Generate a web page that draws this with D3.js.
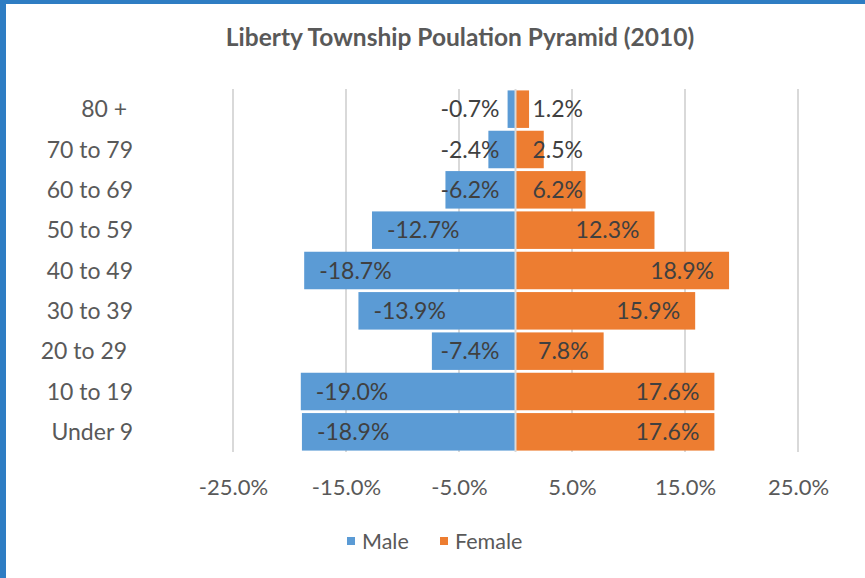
<!DOCTYPE html>
<html>
<head>
<meta charset="utf-8">
<script src="https://cdn.jsdelivr.net/npm/d3@7"></script>
<style>
  html, body { margin: 0; padding: 0; background: #fff; }
  svg { display: block; font-family: Lato, "Open Sans", sans-serif; }
</style>
</head>
<body>
<svg id="chart"></svg>
<script>
// Age groups, top to bottom (trailing spaces as in the original sheet)
const categories = ['80 + ', '70 to 79', '60 to 69', '50 to 59', '40 to 49', '30 to 39', '20 to 29 ', '10 to 19', 'Under 9'];
const maleValues = [-0.7, -2.4, -6.2, -12.7, -18.7, -13.9, -7.4, -19.0, -18.9];
const femaleValues = [1.2, 2.5, 6.2, 12.3, 18.9, 15.9, 7.8, 17.6, 17.6];
const xTicks = [-25, -15, -5, 5, 15, 25];
const seriesNames = ['Male', 'Female'];

const config = {
  width: 865,
  height: 578,
  margin: { top: 89, right: 67, bottom: 126, left: 233 }
};
const colors = { Male: '#5b9bd5', Female: '#ed7d31' };

const svg = d3.select('#chart')
  .attr('width', config.width)
  .attr('height', config.height);

// Blue frame edges
svg.append('rect').attr('x', 0).attr('y', 0).attr('width', config.width).attr('height', 4).attr('fill', '#2e7dc3');
svg.append('rect').attr('x', 0).attr('y', 0).attr('width', 6).attr('height', config.height).attr('fill', '#2e7dc3');

const innerW = config.width - config.margin.left - config.margin.right;
const innerH = config.height - config.margin.top - config.margin.bottom;

const chart = svg.append('g')
  .attr('transform', `translate(${config.margin.left},${config.margin.top})`);

// Scales
const xScale = d3.scaleLinear().domain([-25, 25]).range([0, innerW]);
const yScale = d3.scaleBand().domain(categories).range([0, innerH]).paddingInner(0.07).paddingOuter(0.035);

// Gridlines
chart.selectAll('.grid')
  .data(xTicks)
  .join('line')
  .attr('class', 'grid')
  .attr('x1', d => xScale(d)).attr('x2', d => xScale(d))
  .attr('y1', 0).attr('y2', innerH)
  .attr('stroke', '#d9d9d9')
  .attr('stroke-width', 2);

// Table for bars
const rows = categories.map((c, i) => ({ cat: c, male: maleValues[i], female: femaleValues[i] }));

chart.selectAll('.bar-male')
  .data(rows)
  .join('rect')
  .attr('class', 'bar-male')
  .attr('x', d => xScale(d.male))
  .attr('width', d => xScale(0) - xScale(d.male))
  .attr('y', d => yScale(d.cat))
  .attr('height', yScale.bandwidth())
  .attr('fill', colors.Male);

chart.selectAll('.bar-female')
  .data(rows)
  .join('rect')
  .attr('class', 'bar-female')
  .attr('x', xScale(0))
  .attr('width', d => xScale(d.female) - xScale(0))
  .attr('y', d => yScale(d.cat))
  .attr('height', yScale.bandwidth())
  .attr('fill', colors.Female);

// Vertical zero axis
chart.append('line')
  .attr('x1', xScale(0)).attr('x2', xScale(0))
  .attr('y1', 0).attr('y2', innerH)
  .attr('stroke', '#d9d9d9')
  .attr('stroke-width', 2);

// Data labels (plain hyphen for negatives, like Excel)
const fmt = d => d.toFixed(1) + '%';
const x0 = xScale(0);

chart.selectAll('.lbl-male')
  .data(rows)
  .join('text')
  .attr('class', 'lbl-male')
  .attr('y', d => yScale(d.cat) + yScale.bandwidth() / 2)
  .attr('dy', '0.36em')
  .attr('font-size', 23)
  .attr('fill', '#404040')
  .attr('text-anchor', 'start')
  .text(d => fmt(d.male))
  .attr('x', function (d) {
    const w = this.getComputedTextLength();
    return Math.min(xScale(d.male) + 15, x0 - 16 - w);
  });

chart.selectAll('.lbl-female')
  .data(rows)
  .join('text')
  .attr('class', 'lbl-female')
  .attr('y', d => yScale(d.cat) + yScale.bandwidth() / 2)
  .attr('dy', '0.36em')
  .attr('font-size', 23)
  .attr('fill', '#404040')
  .attr('text-anchor', 'end')
  .text(d => fmt(d.female))
  .attr('x', function (d) {
    const w = this.getComputedTextLength();
    return Math.max(xScale(d.female) - 15, x0 + 17 + w);
  });

// Category labels
chart.selectAll('.cat')
  .data(categories)
  .join('text')
  .attr('class', 'cat')
  .attr('x', 133 - config.margin.left)
  .attr('y', d => yScale(d) + yScale.bandwidth() / 2)
  .attr('dy', '0.36em')
  .attr('text-anchor', 'end')
  .attr('font-size', 23)
  .attr('fill', '#595959')
  .style('white-space', 'pre')
  .text(d => d);

// X axis labels
const xAxis = d3.axisBottom(xScale)
  .tickValues(xTicks)
  .tickSize(0)
  .tickPadding(27)
  .tickFormat(fmt);

chart.append('g')
  .attr('transform', `translate(0,${innerH})`)
  .call(xAxis)
  .call(g => g.select('.domain').remove())
  .call(g => g.selectAll('text')
    .attr('font-family', 'Lato, "Open Sans", sans-serif')
    .attr('font-size', 22)
    .attr('fill', '#595959'));

// Title
svg.append('text')
  .attr('x', 460)
  .attr('y', 46)
  .attr('text-anchor', 'middle')
  .attr('font-size', 24.5)
  .attr('font-weight', 'bold')
  .attr('fill', '#595959')
  .text('Liberty Township Poulation Pyramid (2010)');

// Legend
const legend = svg.append('g').attr('transform', 'translate(347,541)');
const legendX = [0, 93];
seriesNames.forEach((name, i) => {
  const item = legend.append('g').attr('transform', `translate(${legendX[i]},0)`);
  item.append('rect')
    .attr('x', 0).attr('y', -4)
    .attr('width', 8).attr('height', 8)
    .attr('fill', colors[name]);
  item.append('text')
    .attr('x', 15)
    .attr('dy', '0.36em')
    .attr('font-size', 21.5)
    .attr('fill', '#595959')
    .text(name);
});
</script>
</body>
</html>
